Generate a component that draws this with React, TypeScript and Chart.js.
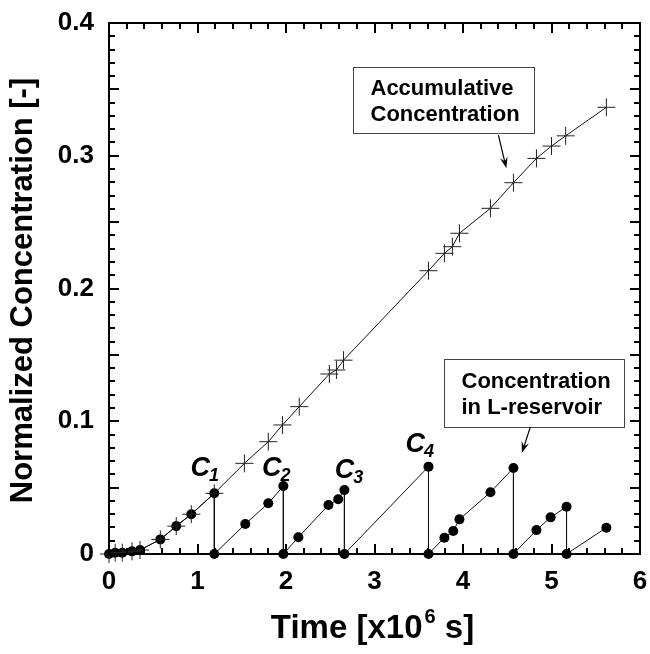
import React, { useEffect, useRef } from "react";
import { Chart, registerables } from "chart.js";

Chart.register(...registerables);

// Accumulative concentration (crosses)
const accumTime = [0, 0.07, 0.15, 0.26, 0.35, 0.58, 0.76, 0.93, 1.19, 1.53, 1.8, 1.96, 2.15, 2.49, 2.57, 2.65, 3.61, 3.79, 3.88, 3.96, 4.31, 4.57, 4.83, 5.0, 5.16, 5.62];
const accumConc = [0, 0.001, 0.001, 0.002, 0.003, 0.011, 0.021, 0.03, 0.0457, 0.0683, 0.0846, 0.0972, 0.111, 0.1356, 0.1386, 0.146, 0.2134, 0.2265, 0.2315, 0.2416, 0.2604, 0.2797, 0.298, 0.3073, 0.315, 0.3365];

// Concentration in L-reservoir (filled circles, reset to zero after each sampling)
const resTime = [0, 0.07, 0.15, 0.26, 0.35, 0.58, 0.76, 0.93, 1.19, 1.19, 1.54, 1.8, 1.97, 1.97, 2.14, 2.48, 2.59, 2.66, 2.66, 3.61, 3.61, 3.79, 3.89, 3.96, 4.31, 4.57, 4.57, 4.83, 4.99, 5.17, 5.17, 5.62];
const resConc = [0, 0.001, 0.001, 0.002, 0.003, 0.011, 0.021, 0.03, 0.0457, 0, 0.0226, 0.0382, 0.0512, 0, 0.0126, 0.0369, 0.0412, 0.0482, 0, 0.0658, 0, 0.0123, 0.0173, 0.0261, 0.0465, 0.0648, 0, 0.018, 0.0276, 0.0356, 0, 0.0198];

// Axis ticks
const xTicks = [0, 1, 2, 3, 4, 5, 6];
const yTicks = [0, 0.1, 0.2, 0.3, 0.4];

// Labels C1..C4 (anchor in data units: time, concentration)
const cLabels = ["1", "2", "3", "4"];
const cLabelX = [0.92, 1.73, 2.55, 3.35];
const cLabelY = [0.0588, 0.0588, 0.057, 0.0768];

// Callout boxes
const boxLines = [["Accumulative", "Concentration"], ["Concentration", "in L-reservoir"]];
const boxX0 = [2.76, 3.79];
const boxY0 = [0.367, 0.147];
const boxX1 = [4.8, 5.82];
const boxY1 = [0.317, 0.0955];
const arrowFromX = [4.4, 4.76];
const arrowFromY = [0.3156, 0.0955];
const arrowToX = [4.49, 4.665];
const arrowToY = [0.2905, 0.076];

const FONT = '"Liberation Sans", Arial, Helvetica, sans-serif';

const decorPlugin = {
  id: "decor",
  afterDraw(chart: any) {
    const ctx = chart.ctx;
    const xs = chart.scales.x;
    const ys = chart.scales.y;
    const { left, right, top, bottom } = chart.chartArea;
    ctx.save();
    // frame
    ctx.strokeStyle = "#000";
    ctx.lineWidth = 2;
    ctx.strokeRect(left, top, right - left, bottom - top);
    // x ticks (inward, bottom and top)
    for (let i = 0; i <= 30; i++) {
      const v = i * 0.2;
      const px = Math.round(xs.getPixelForValue(v));
      const len = i % 5 === 0 ? 10 : 6;
      ctx.beginPath();
      ctx.moveTo(px, bottom);
      ctx.lineTo(px, bottom - len);
      ctx.moveTo(px, top);
      ctx.lineTo(px, top + len);
      ctx.stroke();
    }
    for (let i = 0; i <= 40; i++) {
      const v = i * 0.01;
      const py = Math.round(ys.getPixelForValue(v));
      const len = i % 5 === 0 ? 10 : 6;
      ctx.beginPath();
      ctx.moveTo(left, py);
      ctx.lineTo(left + len, py);
      ctx.moveTo(right, py);
      ctx.lineTo(right - len, py);
      ctx.stroke();
    }
    // y title
    ctx.fillStyle = "#000";
    ctx.font = `bold 31px ${FONT}`;
    ctx.textAlign = "center";
    ctx.textBaseline = "middle";
    ctx.save();
    ctx.translate(23, (top + bottom) / 2 + 2);
    ctx.rotate(-Math.PI / 2);
    ctx.fillText("Normalized Concentration [-]", 0, 0);
    ctx.restore();
    // x title with superscript
    const t1 = "Time [x10";
    const t2 = "6";
    const t3 = " s]";
    ctx.textAlign = "left";
    ctx.textBaseline = "alphabetic";
    ctx.font = `bold 33px ${FONT}`;
    const w1 = ctx.measureText(t1).width;
    const w3 = ctx.measureText(t3).width;
    ctx.font = `bold 20px ${FONT}`;
    const w2 = ctx.measureText(t2).width;
    const total = w1 + w2 + w3 + 2;
    const sx = (left + right) / 2 - total / 2 - 2;
    const base = 638;
    ctx.font = `bold 33px ${FONT}`;
    ctx.fillText(t1, sx, base);
    ctx.font = `bold 20px ${FONT}`;
    ctx.fillText(t2, sx + w1 + 2, base - 15);
    ctx.font = `bold 33px ${FONT}`;
    ctx.fillText(t3, sx + w1 + w2 + 2, base);
    // C labels
    for (let i = 0; i < cLabels.length; i++) {
      const px = xs.getPixelForValue(cLabelX[i]);
      const py = ys.getPixelForValue(cLabelY[i]);
      ctx.font = `italic bold 27px ${FONT}`;
      ctx.fillText("C", px, py);
      const wc = ctx.measureText("C").width;
      ctx.font = `italic bold 18px ${FONT}`;
      ctx.fillText(cLabels[i], px + wc - 1, py + 5);
    }
    // boxes
    for (let i = 0; i < boxLines.length; i++) {
      const x0 = Math.round(xs.getPixelForValue(boxX0[i])) + 0.5;
      const y0 = Math.round(ys.getPixelForValue(boxY0[i])) + 0.5;
      const x1 = Math.round(xs.getPixelForValue(boxX1[i])) + 0.5;
      const y1 = Math.round(ys.getPixelForValue(boxY1[i])) + 0.5;
      ctx.fillStyle = "#fff";
      ctx.fillRect(x0, y0, x1 - x0, y1 - y0);
      ctx.strokeStyle = "#444";
      ctx.lineWidth = 1;
      ctx.strokeRect(x0, y0, x1 - x0, y1 - y0);
      ctx.fillStyle = "#000";
      ctx.font = `bold 22px ${FONT}`;
      ctx.textAlign = "left";
      ctx.textBaseline = "middle";
      const lines = boxLines[i];
      const cy = (y0 + y1) / 2;
      ctx.fillText(lines[0], x0 + 17, cy - 12);
      ctx.fillText(lines[1], x0 + 17, cy + 14);
    }
    // arrows
    for (let i = 0; i < arrowFromX.length; i++) {
      const ax = xs.getPixelForValue(arrowFromX[i]);
      const ay = ys.getPixelForValue(arrowFromY[i]);
      const bx = xs.getPixelForValue(arrowToX[i]);
      const by = ys.getPixelForValue(arrowToY[i]);
      const ang = Math.atan2(by - ay, bx - ax);
      ctx.strokeStyle = "#000";
      ctx.lineWidth = 1.2;
      ctx.beginPath();
      ctx.moveTo(ax, ay);
      ctx.lineTo(bx - 6 * Math.cos(ang), by - 6 * Math.sin(ang));
      ctx.stroke();
      const hl = 12;
      const hw = 0.33;
      ctx.fillStyle = "#000";
      ctx.beginPath();
      ctx.moveTo(bx, by);
      ctx.lineTo(bx - hl * Math.cos(ang - hw), by - hl * Math.sin(ang - hw));
      ctx.lineTo(bx - 0.6 * hl * Math.cos(ang), by - 0.6 * hl * Math.sin(ang));
      ctx.lineTo(bx - hl * Math.cos(ang + hw), by - hl * Math.sin(ang + hw));
      ctx.closePath();
      ctx.fill();
    }
    ctx.restore();
  },
};

export default function App() {
  const ref = useRef<HTMLCanvasElement | null>(null);
  useEffect(() => {
    if (!ref.current) return;
    const chart = new Chart(ref.current, {
      type: "scatter",
      data: {
        datasets: [
          {
            label: "Accumulative Concentration",
            data: accumTime.map((t, i) => ({ x: t, y: accumConc[i] })),
            showLine: true,
            clip: false,
            borderColor: "#111",
            borderWidth: 1,
            pointStyle: "cross",
            pointRadius: 9,
            pointBorderWidth: 1,
            pointBorderColor: "#222",
            pointBackgroundColor: "#222",
          },
          {
            label: "Concentration in L-reservoir",
            data: resTime.map((t, i) => ({ x: t, y: resConc[i] })),
            showLine: true,
            clip: false,
            borderColor: "#111",
            borderWidth: 1,
            pointStyle: "circle",
            pointRadius: 5,
            pointBorderWidth: 0,
            pointBackgroundColor: "#000",
          },
        ],
      },
      options: {
        animation: false,
        responsive: false,
        devicePixelRatio: 1,
        events: [],
        layout: { padding: { top: 23, right: 10, left: 0, bottom: 0 } },
        plugins: { legend: { display: false }, tooltip: { enabled: false } },
        scales: {
          x: {
            type: "linear",
            min: 0,
            max: 6,
            afterBuildTicks: (s: any) => {
              s.ticks = xTicks.map((v) => ({ value: v }));
            },
            afterFit: (s: any) => {
              s.height = 100;
              s.paddingLeft = 0;
              s.paddingRight = 0;
            },
            ticks: {
              color: "#000",
              font: { family: FONT, size: 26, weight: "bold" },
              padding: 12,
              maxRotation: 0,
              autoSkip: false,
            },
            grid: { display: false, drawTicks: false },
            border: { display: false },
          },
          y: {
            type: "linear",
            min: 0,
            max: 0.4,
            afterBuildTicks: (s: any) => {
              s.ticks = yTicks.map((v) => ({ value: v }));
            },
            afterFit: (s: any) => {
              s.width = 109;
              s.paddingTop = 0;
              s.paddingBottom = 0;
            },
            ticks: {
              color: "#000",
              font: { family: FONT, size: 26, weight: "bold" },
              padding: 15,
              autoSkip: false,
              callback: (v: any) => (Number(v) === 0 ? "0" : Number(v).toFixed(1)),
            },
            grid: { display: false, drawTicks: false },
            border: { display: false },
          },
        },
      },
      plugins: [decorPlugin],
    });
    return () => chart.destroy();
  }, []);
  return (
    <div style={{ position: "absolute", left: 0, top: 0, width: 650, height: 654 }}>
      <canvas ref={ref} width={650} height={654} style={{ display: "block", width: 650, height: 654 }} />
    </div>
  );
}
